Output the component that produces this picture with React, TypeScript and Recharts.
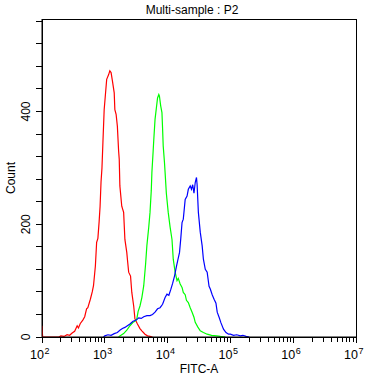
import { LineChart, Line, XAxis, YAxis, ReferenceArea } from "recharts";

// x values are log10(FITC-A), y values are counts
const red: [number, number][] = [
  [2.0, 20], [2.01, 0], [2.27, 0], [2.3, 2], [2.35, 1], [2.4, 4], [2.44, 3], [2.48, 7],
  [2.52, 10], [2.56, 20], [2.58, 16], [2.61, 24], [2.65, 30], [2.68, 36], [2.71, 50],
  [2.73, 52], [2.77, 67], [2.8, 80], [2.82, 91], [2.85, 126], [2.87, 168], [2.89, 175],
  [2.91, 205], [2.925, 232], [2.94, 275], [2.955, 300], [2.97, 345], [2.99, 403],
  [3.01, 430], [3.03, 457], [3.06, 465], [3.08, 472], [3.1, 469], [3.12, 455], [3.15, 433],
  [3.16, 403], [3.18, 395], [3.2, 374], [3.22, 330], [3.23, 315], [3.24, 268], [3.27, 232],
  [3.3, 221], [3.32, 173], [3.35, 150], [3.36, 138], [3.38, 115], [3.41, 108], [3.43, 79],
  [3.46, 55], [3.48, 32], [3.52, 23], [3.56, 15], [3.59, 11], [3.64, 5], [3.68, 2],
  [3.72, 1], [3.76, 0],
];

const green: [number, number][] = [
  [3.22, 0], [3.24, 2], [3.3, 6], [3.35, 12], [3.4, 20], [3.45, 26], [3.48, 28], [3.51, 32],
  [3.53, 45], [3.56, 55], [3.59, 70], [3.62, 91], [3.65, 130], [3.67, 162], [3.7, 195],
  [3.72, 221], [3.74, 260], [3.75, 292], [3.77, 330], [3.78, 350], [3.8, 386], [3.82, 405],
  [3.84, 424], [3.86, 430], [3.87, 427], [3.89, 410], [3.91, 398], [3.92, 370], [3.93, 339],
  [3.95, 310], [3.96, 292], [3.98, 255], [4.01, 221], [4.04, 195], [4.07, 173], [4.09, 138],
  [4.12, 115], [4.15, 100], [4.17, 104], [4.2, 94], [4.23, 88], [4.25, 79], [4.28, 75],
  [4.3, 65], [4.33, 61], [4.36, 52], [4.39, 44], [4.42, 35], [4.44, 26], [4.48, 18],
  [4.52, 11], [4.57, 8], [4.63, 5], [4.7, 3], [4.78, 2], [4.84, 1], [4.92, 0],
];

const blue: [number, number][] = [
  [2.98, 0], [3.0, 2], [3.05, 4], [3.1, 3], [3.15, 6], [3.2, 8], [3.24, 12], [3.28, 15],
  [3.32, 17], [3.36, 20], [3.4, 23], [3.45, 28], [3.5, 30], [3.54, 34], [3.58, 33],
  [3.62, 36], [3.67, 38], [3.72, 38], [3.76, 40], [3.8, 44], [3.84, 50], [3.88, 52],
  [3.92, 58], [3.96, 70], [3.99, 76], [4.02, 74], [4.05, 84], [4.08, 95], [4.11, 108],
  [4.14, 125], [4.16, 135], [4.19, 150], [4.21, 175], [4.23, 203], [4.25, 209], [4.28, 244],
  [4.31, 250], [4.33, 262], [4.36, 268], [4.38, 262], [4.4, 270], [4.42, 255], [4.44, 274],
  [4.46, 283], [4.47, 270], [4.49, 221], [4.52, 186], [4.55, 162], [4.57, 138], [4.6, 120],
  [4.63, 115], [4.66, 90], [4.68, 85], [4.71, 75], [4.74, 67], [4.77, 60], [4.79, 44],
  [4.82, 35], [4.85, 25], [4.89, 14], [4.93, 8], [4.97, 5], [5.0, 5], [5.05, 3], [5.1, 4],
  [5.16, 2], [5.2, 3], [5.25, 1], [5.3, 0],
];

const decades = [2, 3, 4, 5, 6, 7];
const countTicks = [0, 40, 80, 120, 160, 200, 240, 280, 320, 360, 400, 440, 480, 520, 560];
const countLabels = [0, 200, 400];

const xTicks = decades.flatMap((d) =>
  d === 7 ? [d] : [d, ...[2, 3, 4, 5, 6, 7, 8, 9].map((k) => d + Math.log10(k))]
);

const toPoints = (s: [number, number][]) => s.map(([x, y]) => ({ x, y }));

const font = "'Liberation Sans', Arial, sans-serif";

const XTick = ({ x, y, payload }: any) => {
  const v = payload.value;
  const major = Math.abs(v - Math.round(v)) < 1e-6;
  return (
    <g>
      <line x1={x} x2={x} y1={y} y2={y + (major ? 6 : 5)} stroke="#000" shapeRendering="crispEdges" />
      {major && (
        <>
          <text x={x + 2} y={y + 22} textAnchor="end" fontSize={12.5} fontFamily={font} fill="#000">
            10
          </text>
          <text x={x + 2.5} y={y + 17} fontSize={9} fontFamily={font} fill="#000">
            {Math.round(v)}
          </text>
        </>
      )}
    </g>
  );
};

const YTick = ({ x, y, payload }: any) => {
  const v = payload.value;
  return (
    <g>
      <line x1={x - 6} x2={x} y1={y} y2={y} stroke="#000" shapeRendering="crispEdges" />
      {countLabels.includes(v) && (
        <text
          x={x - 12}
          y={y}
          textAnchor="middle"
          fontSize={12}
          fontFamily={font}
          fill="#000"
          transform={`rotate(-90, ${x - 12}, ${y})`}
        >
          {v}
        </text>
      )}
    </g>
  );
};

export default function App() {
  return (
    <div style={{ position: "absolute", left: 0, top: 0, width: 384, height: 377, background: "#fff" }}>
      <LineChart width={384} height={377} margin={{ top: 19, right: 28, bottom: 0, left: 0 }}>
        <XAxis
          type="number"
          dataKey="x"
          domain={[2, 7]}
          ticks={xTicks}
          interval={0}
          tickLine={false}
          tickSize={0}
          tickMargin={0}
          tick={<XTick />}
          height={40}
          stroke="#000"
          allowDataOverflow
        />
        <YAxis
          type="number"
          dataKey="y"
          domain={[0, 564]}
          ticks={countTicks}
          interval={0}
          tickLine={false}
          tickSize={0}
          tickMargin={0}
          tick={<YTick />}
          width={42}
          stroke="#000"
          allowDataOverflow
        />
        <ReferenceArea
          x1={2}
          x2={7}
          y1={0}
          y2={564}
          fill="none"
          stroke="#000"
          ifOverflow="visible"
          shapeRendering="crispEdges"
        />
        <Line data={toPoints(red)} dataKey="y" stroke="#ff0000" strokeWidth={1.2} dot={false} isAnimationActive={false} />
        <Line data={toPoints(green)} dataKey="y" stroke="#00ff00" strokeWidth={1.2} dot={false} isAnimationActive={false} />
        <Line data={toPoints(blue)} dataKey="y" stroke="#0000ff" strokeWidth={1.2} dot={false} isAnimationActive={false} />
      </LineChart>
      <svg width={384} height={377} style={{ position: "absolute", left: 0, top: 0, pointerEvents: "none" }}>
        <text x={192} y={14} textAnchor="middle" fontSize={12} fontFamily={font} fill="#000">
          Multi-sample : P2
        </text>
        <text x={199} y={373} textAnchor="middle" fontSize={12} fontFamily={font} fill="#000">
          FITC-A
        </text>
        <text x={15} y={178} textAnchor="middle" fontSize={12} fontFamily={font} fill="#000" transform="rotate(-90, 15, 178)">
          Count
        </text>
      </svg>
    </div>
  );
}
